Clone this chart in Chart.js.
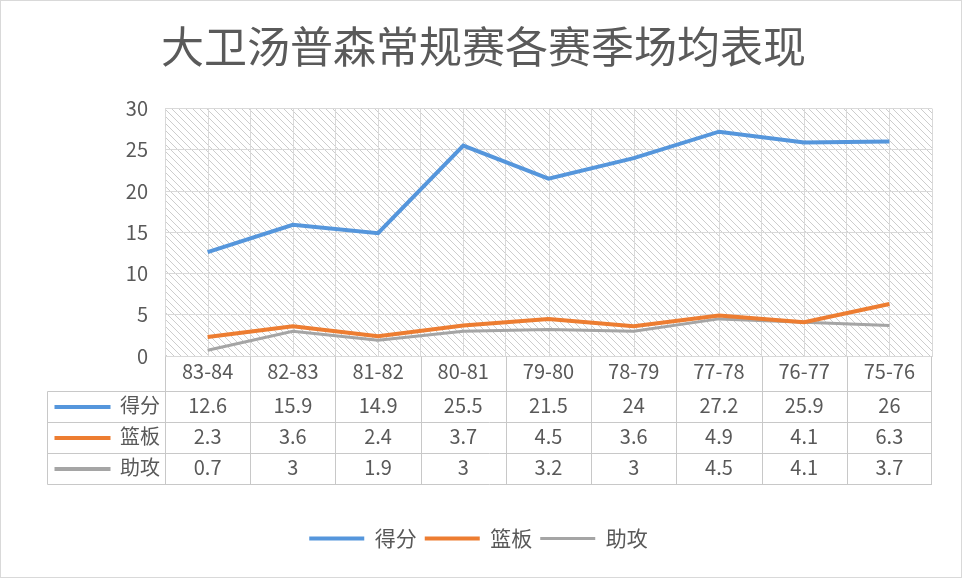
<!DOCTYPE html>
<html><head><meta charset="utf-8">
<script src="https://cdn.jsdelivr.net/npm/chart.js@4/dist/chart.umd.min.js"></script>
<style>html,body{margin:0;padding:0;background:#fff}#wrap{width:962px;height:578px;position:relative}</style>
</head><body><div id="wrap"><canvas id="c" width="962" height="578"></canvas></div>
<script>
const chartTitle = '大卫汤普森常规赛各赛季场均表现';
const seasons = ['83-84','82-83','81-82','80-81','79-80','78-79','77-78','76-77','75-76'];
const points = [12.6,15.9,14.9,25.5,21.5,24,27.2,25.9,26];
const rebounds = [2.3,3.6,2.4,3.7,4.5,3.6,4.9,4.1,6.3];
const assists = [0.7,3,1.9,3,3.2,3,4.5,4.1,3.7];
const seriesNames = ['得分','篮板','助攻'];
const seriesColors = ['#5596DC','#ED7D31','#A5A5A5'];
const yMin = 0, yMax = 30, yStep = 5;

const FONT = '"Noto Sans CJK SC", "Noto Sans", sans-serif';
const TEXT = '#595959';
const GRID = '#d9d9d9';
const TABLE = '#c8c8c8';

// hatch pattern
const T = 7;
const pc = document.createElement('canvas'); pc.width = T; pc.height = T;
const pctx = pc.getContext('2d');
pctx.fillStyle = '#fff'; pctx.fillRect(0,0,T,T);
pctx.strokeStyle = '#cdcdcd'; pctx.lineWidth = 1;
pctx.beginPath();
pctx.moveTo(0,0); pctx.lineTo(T,T);
pctx.moveTo(-1,T-1); pctx.lineTo(1,T+1);
pctx.moveTo(T-1,-1); pctx.lineTo(T+1,1);
pctx.stroke();

const seriesData = [points, rebounds, assists];

const tablePlugin = {
  id: 'tablePlugin',
  afterLayout(chart) {
    if (chart.legend) { chart.legend.left -= 11; chart.legend.right -= 11; }
    if (chart.titleBlock) { chart.titleBlock.left -= 6; chart.titleBlock.right -= 6; }
  },
  beforeDraw(chart) {
    const ctx = chart.ctx, a = chart.chartArea;
    ctx.save();
    ctx.fillStyle = '#fff';
    ctx.fillRect(0, 0, chart.width, chart.height);
    ctx.strokeStyle = GRID; ctx.lineWidth = 1;
    ctx.strokeRect(0.5, 0.5, chart.width - 1, chart.height - 1);
    ctx.fillStyle = ctx.createPattern(pc, 'repeat');
    ctx.fillRect(a.left, a.top, a.right - a.left, a.bottom - a.top);
    ctx.restore();
  },
  beforeDatasetsDraw(chart) {
    const ctx = chart.ctx, a = chart.chartArea, xs = chart.scales.x;
    ctx.save();
    ctx.strokeStyle = GRID; ctx.lineWidth = 1;
    ctx.beginPath();
    seasons.forEach((s, i) => {
      const x = Math.round(xs.getPixelForValue(i)) + 0.5;
      ctx.moveTo(x, a.top); ctx.lineTo(x, a.bottom);
    });
    ctx.stroke();
    ctx.restore();
  },
  afterDraw(chart) {
    const ctx = chart.ctx, a = chart.chartArea, xs = chart.scales.x, ys = chart.scales.y;
    const left = Math.round(ys.left) + 0.5;
    const b = Math.round(a.bottom) + 0.5;
    const rows = [b + 35, b + 66, b + 97, b + 128];
    ctx.save();
    ctx.strokeStyle = TABLE; ctx.lineWidth = 1;
    ctx.beginPath();
    rows.forEach(y => { ctx.moveTo(left, y); ctx.lineTo(a.right, y); });
    ctx.moveTo(left, rows[0]); ctx.lineTo(left, rows[3]);
    ctx.moveTo(Math.round(a.left) + 0.5, b); ctx.lineTo(Math.round(a.left) + 0.5, rows[3]);
    for (let i = 1; i < seasons.length; i++) {
      const x = Math.round((xs.getPixelForValue(i - 1) + xs.getPixelForValue(i)) / 2) + 0.5;
      ctx.moveTo(x, b); ctx.lineTo(x, rows[3]);
    }
    ctx.moveTo(Math.round(a.right) - 0.5, b); ctx.lineTo(Math.round(a.right) - 0.5, rows[3]);
    ctx.stroke();

    ctx.font = '20px ' + FONT;
    ctx.fillStyle = TEXT;
    ctx.textBaseline = 'middle';
    seriesData.forEach((arr, r) => {
      const cy = (rows[r] + rows[r + 1]) / 2;
      ctx.strokeStyle = seriesColors[r]; ctx.lineWidth = 4;
      ctx.beginPath(); ctx.moveTo(left + 7, cy); ctx.lineTo(left + 63, cy); ctx.stroke();
      ctx.textAlign = 'right';
      ctx.fillText(seriesNames[r], a.left - 5, cy - 2);
      ctx.textAlign = 'center';
      arr.forEach((v, i) => ctx.fillText(String(v), xs.getPixelForValue(i), cy - 2));
    });
    ctx.restore();
  }
};

new Chart(document.getElementById('c'), {
  type: 'line',
  data: {
    labels: seasons,
    datasets: seriesData.map((d, i) => ({
      label: seriesNames[i],
      data: d,
      borderColor: seriesColors[i],
      backgroundColor: seriesColors[i],
      borderWidth: i === 2 ? 3 : 4,
      pointRadius: 0,
      tension: 0,
      fill: false
    }))
  },
  options: {
    responsive: false,
    animation: false,
    devicePixelRatio: 1,
    layout: { padding: { left: 47, right: 30, top: 0, bottom: 19 } },
    plugins: {
      title: {
        display: true, text: chartTitle, color: '#5a5a5a',
        font: { family: FONT, size: 43, weight: 'normal' },
        padding: { top: 21, bottom: 36 }
      },
      legend: {
        position: 'bottom',
        labels: {
          usePointStyle: true, pointStyle: 'line', pointStyleWidth: 55,
          color: TEXT, font: { family: FONT, size: 21 }, padding: 8
        }
      },
      tooltip: { enabled: false }
    },
    scales: {
      x: {
        offset: true,
        grid: { offset: true, color: GRID, drawTicks: false },
        border: { color: GRID },
        ticks: { color: TEXT, font: { family: FONT, size: 20 }, padding: 3, maxRotation: 0, autoSkip: false },
        afterFit(s) { s.height = 164; }
      },
      y: {
        min: yMin, max: yMax,
        grid: { color: GRID, drawTicks: false },
        border: { color: GRID },
        ticks: { stepSize: yStep, color: TEXT, font: { family: FONT, size: 20 }, padding: 17 },
        afterFit(s) { s.width = 118; }
      }
    }
  },
  plugins: [tablePlugin]
});
</script>
</body></html>
